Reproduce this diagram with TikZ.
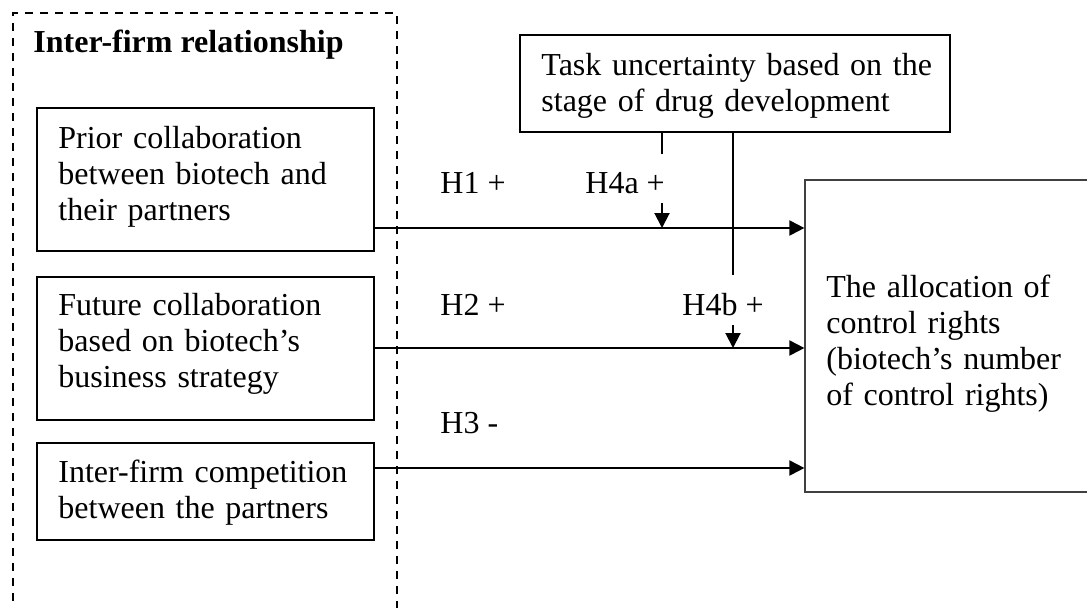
\documentclass[tikz,border=0pt]{standalone}
\usepackage{fontspec}
\setmainfont{Liberation Serif}
\usetikzlibrary{arrows.meta,fit}
\begin{document}
\begin{tikzpicture}[x=0.5pt,y=-0.5pt,
  every node/.style={font=\fontsize{16}{18}\selectfont},
  frame/.style={draw, line width=1pt, inner sep=0pt},
  txt/.style={anchor=base west, inner sep=0pt, align=left, text width=200pt},
  lbl/.style={anchor=base west, inner sep=0pt},
  arr/.style={line width=1pt, -{Triangle[length=7.5pt,width=7.5pt]}},
  link/.style={line width=0.9pt}]
\useasboundingbox (0,0) rectangle (1087,607);
\clip (0,0) rectangle (1087,607);
\fill[white] (0,0) rectangle (1087,607);
% group frame
\node[draw, dash pattern=on 4pt off 3.5pt, line width=0.6pt, inner sep=0pt, fit={(13,13) (397,660)}] (grp) {};
\node[lbl, font=\fontsize{16}{18}\selectfont\bfseries] (title) at (33,52) {Inter-firm relationship};
% boxes
\node[frame, fit={(37,108) (374,251)}] (b1) {};
\node[frame, fit={(37,277) (374,420)}] (b2) {};
\node[frame, fit={(37,443) (374,540)}] (b3) {};
\node[frame, line width=0.6pt, draw=black!75, fit={(805,180) (1130,492)}] (res) {};
\node[frame, fit={(520,35) (950,132)}] (task) {};
% texts
\node[txt] (t1) at (58,148) {Prior collaboration\\between biotech and\\their partners};
\node[txt] (t2) at (58,315) {Future collaboration\\based on biotech’s\\business strategy};
\node[txt] (t3) at (58,482) {Inter-firm competition\\between the partners};
\node[txt] (tr) at (826,297) {The allocation of\\control rights\\(biotech’s number\\of control rights)};
\node[txt] (tt) at (541,75) {Task uncertainty based on the\\stage of drug development};
% labels
\node[lbl] (h1) at (440,193) {H1 +};
\node[lbl] (h4a) at (585,193) {H4a +};
\node[lbl] (h2) at (440,315) {H2 +};
\node[lbl] (h4b) at (682,315) {H4b +};
\node[lbl] (h3) at (440,433) {H3 -};
% coordinates
\coordinate (y1) at (0,228);
\coordinate (y2) at (0,348);
\coordinate (y3) at (0,468);
\coordinate (m1) at (662,154);
\coordinate (m1a) at (662,203);
\coordinate (m2) at (733,275);
\coordinate (m2a) at (733,325);
% connectors
\draw[arr] (b1.east |- y1) -- (res.west |- y1);
\draw[arr] (b2.east |- y2) -- (res.west |- y2);
\draw[arr] (b3.east |- y3) -- (res.west |- y3);
\draw[link] (task.south -| m1) -- (m1);
\draw[arr] (m1a) -- (m1a |- y1);
\draw[link] (task.south -| m2) -- (m2);
\draw[arr] (m2a) -- (m2a |- y2);
\end{tikzpicture}
\end{document}
